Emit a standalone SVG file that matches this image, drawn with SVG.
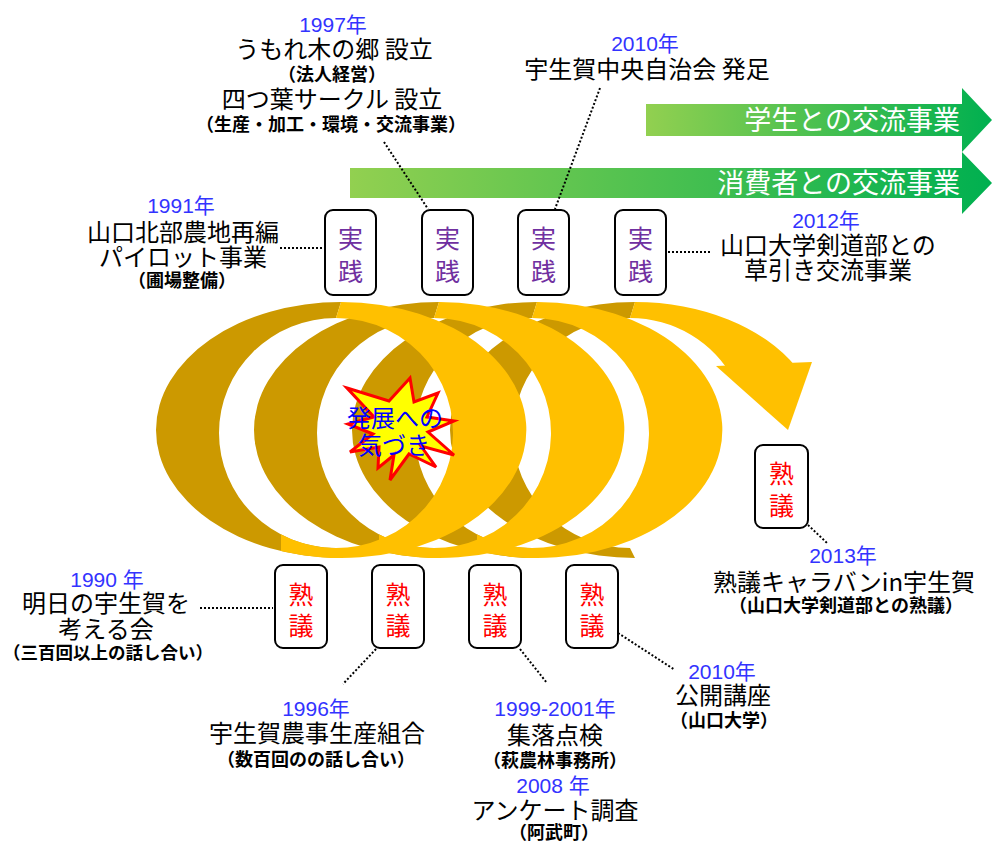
<svg xmlns="http://www.w3.org/2000/svg" width="992" height="844" viewBox="0 0 992 844">
<style>
.yr{font-family:"Liberation Sans","Noto Sans CJK JP",sans-serif;font-size:21px;fill:#3333FF;text-anchor:middle}
.mn{font-family:"Noto Sans CJK JP",sans-serif;font-size:24px;fill:#000;text-anchor:middle}
.sb{font-family:"Noto Sans CJK JP",sans-serif;font-size:18px;font-weight:bold;fill:#000;text-anchor:middle}
.bx{fill:#fff;stroke:#000;stroke-width:2}
.jp{font-family:"Noto Sans CJK JP",sans-serif;font-size:25px;fill:#7030A0;text-anchor:middle}
.jk{font-family:"Noto Sans CJK JP",sans-serif;font-size:25px;fill:#FF0000;text-anchor:middle}
.gt{font-family:"Noto Sans CJK JP",sans-serif;font-size:27px;fill:#fff;text-anchor:end}
.dk{fill:#CC9900}
.br{fill:#FFC000}
.dot{stroke:#000;stroke-width:2;stroke-dasharray:2 2;fill:none}
</style>
<defs>
<linearGradient id="g" x1="0" y1="0" x2="1" y2="0">
<stop offset="0" stop-color="#92D050"/>
<stop offset="1" stop-color="#00B050"/>
</linearGradient>
</defs>
<g id="band-students">
<polygon points="646,104 962,104 962,88 992,120 962,152 962,136 646,136" fill="url(#g)"/>
<text class="gt" x="960" y="130">学生との交流事業</text>
</g>
<g id="band-consumers">
<polygon points="350,168 962,168 962,152 992,183 962,214 962,198 350,198" fill="url(#g)"/>
<text class="gt" x="960" y="193">消費者との交流事業</text>
</g>
<g id="spiral">
<path class="dk" d="M341,302 A185,128 0 0 0 341,558 L336,548 A117,115 0 0 1 336,318 Z"/>
<path class="dk" d="M439,302 A185,128 0 0 0 439,558 L434,548 A117,115 0 0 1 434,318 Z"/>
<path class="dk" d="M537,302 A185,128 0 0 0 537,558 L532,548 A117,115 0 0 1 532,318 Z"/>
<path class="dk" d="M635,302 A185,128 0 0 0 635,558 L630,548 A117,115 0 0 1 630,318 Z"/>
<path class="br" d="M341,302 A185,128 0 1 1 281,551 L281,534.5 A117,115 0 1 0 336,318 Z"/>
<path class="br" d="M439,302 A185,128 0 1 1 379,551 L379,534.5 A117,115 0 1 0 434,318 Z"/>
<path class="br" d="M537,302 A185,128 0 1 1 477,551 L477,534.5 A117,115 0 1 0 532,318 Z"/>
<path class="br" d="M635,302 A185,128 0 0 1 796,367 L734,380 A117,115 0 0 0 630,318 Z"/>
<polygon class="br" points="716,366 812,362 788,430"/>
</g>
<g id="burst">
<polygon points="347,388 389,401 410,378 414,402 438,393 427,417 454,421 428,432 454,455 421,446 436,467 409,454 390,480 394,455 378,468 379,447 350,452 373,434 348,424 374,417" fill="#FFFF00" stroke="#FF0000" stroke-width="3" stroke-linejoin="miter"/>
<text class="mn" x="395" y="427" style="font-size:24px;fill:#0000FF">発展への</text>
<text class="mn" x="394" y="454" style="font-size:24px;fill:#0000FF">気づき</text>
</g>
<g id="connectors">
<line class="dot" x1="280" y1="248" x2="323" y2="248"/>
<line class="dot" x1="384" y1="142" x2="428" y2="209"/>
<line class="dot" x1="600" y1="88" x2="555" y2="209"/>
<line class="dot" x1="668" y1="252" x2="710" y2="252"/>
<line class="dot" x1="200" y1="608" x2="273" y2="608"/>
<line class="dot" x1="376" y1="649" x2="343" y2="684"/>
<line class="dot" x1="520" y1="649" x2="547" y2="683"/>
<line class="dot" x1="618" y1="633" x2="675" y2="670"/>
<line class="dot" x1="808" y1="525" x2="827" y2="543"/>
</g>
<g id="box-j1"><rect class="bx" x="325" y="210" width="51" height="85" rx="8"/><text class="jp" x="350.5" y="247.5">実</text><text class="jp" x="350.5" y="280.5">践</text></g>
<g id="box-j2"><rect class="bx" x="422" y="210" width="51" height="85" rx="8"/><text class="jp" x="447.5" y="247.5">実</text><text class="jp" x="447.5" y="280.5">践</text></g>
<g id="box-j3"><rect class="bx" x="518" y="210" width="51" height="85" rx="8"/><text class="jp" x="543.5" y="247.5">実</text><text class="jp" x="543.5" y="280.5">践</text></g>
<g id="box-j4"><rect class="bx" x="615" y="210" width="51" height="85" rx="8"/><text class="jp" x="640.5" y="247.5">実</text><text class="jp" x="640.5" y="280.5">践</text></g>
<g id="box-k1"><rect class="bx" x="275" y="565" width="52" height="83" rx="8"/><text class="jk" x="301" y="603.5">熟</text><text class="jk" x="301" y="634.5">議</text></g>
<g id="box-k2"><rect class="bx" x="372" y="565" width="52" height="83" rx="8"/><text class="jk" x="398" y="603.5">熟</text><text class="jk" x="398" y="634.5">議</text></g>
<g id="box-k3"><rect class="bx" x="469" y="565" width="52" height="83" rx="8"/><text class="jk" x="495" y="603.5">熟</text><text class="jk" x="495" y="634.5">議</text></g>
<g id="box-k4"><rect class="bx" x="566" y="565" width="52" height="83" rx="8"/><text class="jk" x="592" y="603.5">熟</text><text class="jk" x="592" y="634.5">議</text></g>
<g id="box-k5"><rect class="bx" x="755" y="445" width="53" height="83" rx="8"/><text class="jk" x="781.5" y="483">熟</text><text class="jk" x="781.5" y="514.5">議</text></g>
<g id="label-1997">
<text class="yr" x="333" y="32">1997年</text>
<text class="mn" x="334" y="58">うもれ木の郷 設立</text>
<text class="sb" x="332" y="81">（法人経営）</text>
<text class="mn" x="332" y="108">四つ葉サークル 設立</text>
<text class="sb" x="331" y="131">（生産・加工・環境・交流事業）</text>
</g>
<g id="label-2010a">
<text class="yr" x="645" y="51">2010年</text>
<text class="mn" x="647" y="78">宇生賀中央自治会 発足</text>
</g>
<g id="label-1991">
<text class="yr" x="181" y="213">1991年</text>
<text class="mn" x="183" y="241">山口北部農地再編</text>
<text class="mn" x="183" y="266">パイロット事業</text>
<text class="sb" x="182" y="287">（圃場整備）</text>
</g>
<g id="label-2012">
<text class="yr" x="826" y="228">2012年</text>
<text class="mn" x="828" y="254">山口大学剣道部との</text>
<text class="mn" x="828" y="279">草引き交流事業</text>
</g>
<g id="label-1990">
<text class="yr" x="107" y="587">1990 年</text>
<text class="mn" x="106" y="612">明日の宇生賀を</text>
<text class="mn" x="106" y="638">考える会</text>
<text class="sb" x="108" y="659" style="font-size:17.5px">（三百回以上の話し合い）</text>
</g>
<g id="label-1996">
<text class="yr" x="316" y="716">1996年</text>
<text class="mn" x="317" y="742">宇生賀農事生産組合</text>
<text class="sb" x="316" y="766">（数百回のの話し合い）</text>
</g>
<g id="label-1999">
<text class="yr" x="555" y="716">1999-2001年</text>
<text class="mn" x="555" y="744">集落点検</text>
<text class="sb" x="555" y="767">（萩農林事務所）</text>
<text class="yr" x="553" y="793">2008 年</text>
<text class="mn" x="555" y="819">アンケート調査</text>
<text class="sb" x="554" y="839">（阿武町）</text>
</g>
<g id="label-2010b">
<text class="yr" x="722" y="679">2010年</text>
<text class="mn" x="723" y="704">公開講座</text>
<text class="sb" x="724" y="727">（山口大学）</text>
</g>
<g id="label-2013">
<text class="yr" x="843" y="563">2013年</text>
<text class="mn" x="844" y="591">熟議キャラバンin宇生賀</text>
<text class="sb" x="846" y="612">（山口大学剣道部との熟議）</text>
</g>
</svg>
